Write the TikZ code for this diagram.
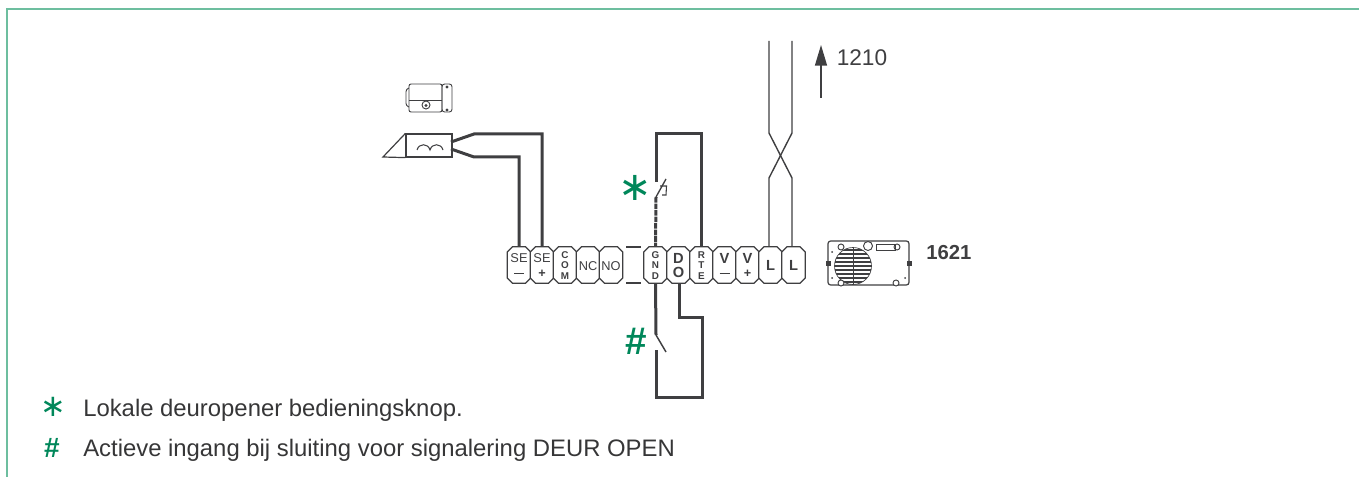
\documentclass[tikz,border=0pt]{standalone}
\usepackage{fontspec}
\setmainfont{Liberation Sans}
\newfontfamily\dejavu{DejaVu Sans}
\usetikzlibrary{arrows.meta}
\definecolor{frame}{HTML}{6DBE9F}
\definecolor{grn}{HTML}{00875A}
\definecolor{ink}{HTML}{3F3F41}
\newcommand{\fs}[1]{\fontsize{#1}{#1}\selectfont}
\tikzset{
  x=0.75pt,y=-0.75pt,
  thickwire/.style={draw=ink,line width=2.25pt,line join=miter},
  dashwire/.style={draw=ink,line width=2.25pt,dash pattern=on 4.2pt off 0.7pt},
  thinwire/.style={draw=ink,line width=1.05pt},
  fine/.style={draw=ink,line width=0.7pt},
  termbody/.style={inner sep=0pt,minimum width=17.25pt,minimum height=27pt},
  termline/.style={draw=ink,line width=0.9pt,fill=white,line join=round},
  tl/.style={text=ink,inner sep=0pt,font=\fs{9.6}},
  tlb/.style={text=ink,inner sep=0pt,font=\fs{11}\bfseries},
  stk/.style={text=ink,inner sep=0pt,font=\fs{7.4}\bfseries},
  bar/.style={draw=ink,line width=1.4pt},
  plus/.style={text=ink,inner sep=0pt,font=\fs{9.5}\bfseries},
  legend/.style={text=ink!85!black,inner sep=0pt,anchor=base west,font=\fs{17.9}},
  sym/.style={text=grn,inner sep=0pt},
}
\newcommand{\termbox}[2]{%
  \node[termbody] (#1) at (#2,265) {};
  \draw[termline] ([xshift=3.9pt]#1.north west) -- ([xshift=-3.9pt]#1.north east)
    -- ([yshift=-3.9pt]#1.north east) -- ([yshift=3.9pt]#1.south east)
    -- ([xshift=-3.9pt]#1.south east) -- ([xshift=3.9pt]#1.south west)
    -- ([yshift=3.9pt]#1.south west) -- ([yshift=-3.9pt]#1.north west) -- cycle;}
\begin{document}
\begin{tikzpicture}
\useasboundingbox (0,0) rectangle (1359,477);
% frame
\draw[draw=frame,line width=1.5pt] (7,477) -- (7,9) -- (1359,9);
% terminals
\termbox{se1}{519}
\termbox{se2}{542}
\termbox{com}{565}
\termbox{nc}{588}
\termbox{no}{611}
\termbox{gnd}{655.5}
\termbox{do}{678.5}
\termbox{rte}{701.5}
\termbox{vm}{724.5}
\termbox{vp}{747.5}
\termbox{l1}{770.5}
\termbox{l2}{793.5}
% dashes between NO and GND
\coordinate (da) at (626,247); \coordinate (db) at (641,247);
\coordinate (dc) at (626,283); \coordinate (dd) at (641,283);
\draw[draw=ink,line width=0.9pt] (da) -- (db) (dc) -- (dd);
% terminal labels
\node[tl] (se1t) at (519,258) {SE};
\draw[bar] (514,273.5) -- (524,273.5);
\node[tl] (se2t) at (542,258) {SE};
\node[plus] (se2p) at (542,273.5) {+};
\node[stk] (c1) at (565,255) {C};
\node[stk] (c2) at (565,265) {O};
\node[stk] (c3) at (565,276) {M};
\node[tl] (nct) at (588,266) {NC};
\node[tl] (not) at (611,266) {NO};
\node[stk] (g1) at (655.5,255) {G};
\node[stk] (g2) at (655.5,265.5) {N};
\node[stk] (g3) at (655.5,276) {D};
\node[tlb] (d1) at (678.5,258.5) {D};
\node[tlb] (d2) at (678.5,272) {O};
\node[stk] (r1) at (701.5,255) {R};
\node[stk] (r2) at (701.5,265.5) {T};
\node[stk] (r3) at (701.5,276) {E};
\node[tlb] (v1) at (724.5,258.5) {V};
\draw[bar] (719.5,273.5) -- (729.5,273.5);
\node[tlb] (v2) at (747.5,258.5) {V};
\node[plus] (v2p) at (747.5,273.5) {+};
\node[tlb] (l1t) at (770.5,265) {L};
\node[tlb] (l2t) at (793.5,265) {L};
% relay
\node[draw=ink,line width=0.9pt,inner sep=0pt,minimum width=34.5pt,minimum height=17.25pt] (relay) at (429,145.5) {};
\draw[draw=ink,line width=0.9pt] (relay.north west) -- (383,157) -- (relay.south west);
\draw[fine,line width=0.8pt] (417,150) .. controls (419,143) and (428,143) .. (430,150) .. controls (432,143) and (441,143) .. (443,150);
\coordinate (ra) at (451,142);
\coordinate (rb) at (451,149);
\draw[thickwire] (ra) -- (474,134) -| (se2.north);
\draw[thickwire] (rb) -- (474,157) -| (se1.north);
% lock
\draw[fine,rounded corners=1.5pt] (409,84) rectangle (442,112);
\draw[fine,rounded corners=2pt] (442,84) rectangle (452,112);
\draw[fine,rounded corners=2pt] (409,88) -- (406,89) -- (406,106) -- (409,107);
\draw[fine] (409,100) -- (442,100);
\draw[fine] (426,105) circle (4);
\fill[ink] (426,105.5) circle (1.6);
\fill[ink] (447,87) circle (1.6);
\fill[ink] (447,110) circle (1.6);
% local door release
\coordinate (sa) at (656,182);
\coordinate (sb) at (656,197);
\coordinate (sc) at (666,179);
\draw[thickwire] (rte.north) |- (sa |- 0,134) -- (sa);
\draw[dashwire] (sb) -- (gnd.north);
\draw[fine,line width=1pt] (sb) -- (sc);
\draw[fine,line width=0.8pt] (660,186) -- (666.5,186) -- (666,195) -- (662,195);
\node[sym,font=\dejavu\fs{30}] (star) at (635,188) {∗};
% door open
\coordinate (oa) at (656,335);
\coordinate (ob) at (666,352);
\coordinate (oc) at (656,350);
\draw[thickwire] (gnd.south) -- (oa);
\draw[fine,line width=1.1pt] (oa) -- (ob);
\draw[thickwire] (oc) -- (656,397) -- (702,397) -- (702,317) -- (679,317) -- (do.south -| 679,283);
\node[sym,font=\fs{29}\bfseries] (hash) at (636,341) {\#};
% bus
\coordinate (ba) at (769,41);
\coordinate (bb) at (792,41);
\draw[thinwire] (ba) -- (769,133) -- (792,178) -- (l2.north -| 792,247);
\draw[thinwire] (bb) -- (792,133) -- (769,178) -- (l1.north -| 769,247);
\coordinate (aa) at (821,98);
\coordinate (ab) at (821,45);
\draw[draw=ink,line width=1.1pt,-{Triangle[length=15.5pt,width=9pt]}] (aa) -- (ab);
\node[text=ink,inner sep=0pt,anchor=base west,font=\fs{17}] (t1210) at (836.5,66) {1210};
% device 1621
\draw[fine,line width=0.9pt,rounded corners=2pt] (828,241) -- (909,241) -- (909,285) -- (828,285) -- cycle;
\begin{scope}
\clip (853,266) circle (18.5);
\foreach \yy in {250,254,...,284} \draw[draw=ink,line width=1.2pt] (834,\yy) -- (872,\yy);
\end{scope}
\draw[fine,line width=0.5pt] (853,247) -- (853,285);
\draw[fine,line width=0.5pt] (853,266) circle (18.5);
\draw[fine,fill=white] (841,247) circle (3);
\draw[fine,fill=white] (868,246) circle (4.5);
\draw[fine,fill=white] (897,247) circle (3);
\draw[fine,fill=white] (841,283) circle (3);
\draw[fine,fill=white] (896,283) circle (3);
\draw[fine] (876,244) rectangle (895,250);
\fill[ink] (825.5,261) rectangle (830.5,266);
\fill[ink] (906.5,261) rectangle (911.5,266);
\fill[ink] (832,252) circle (1);
\fill[ink] (832,278) circle (1);
\fill[ink] (905,278) circle (1);
\node[text=ink,inner sep=0pt,anchor=base west,font=\fs{15.2}\bfseries] (t1621) at (926,259) {1621};
% legend
\node[sym,font=\dejavu\fs{23}] (lstar) at (53,407) {∗};
\node[legend] (lt1) at (83,416) {Lokale deuropener bedieningsknop.};
\node[sym,font=\fs{21}\bfseries] (lhash) at (52,448) {\#};
\node[legend] (lt2) at (83,456) {Actieve ingang bij sluiting voor signalering DEUR OPEN};
\end{tikzpicture}
\end{document}
